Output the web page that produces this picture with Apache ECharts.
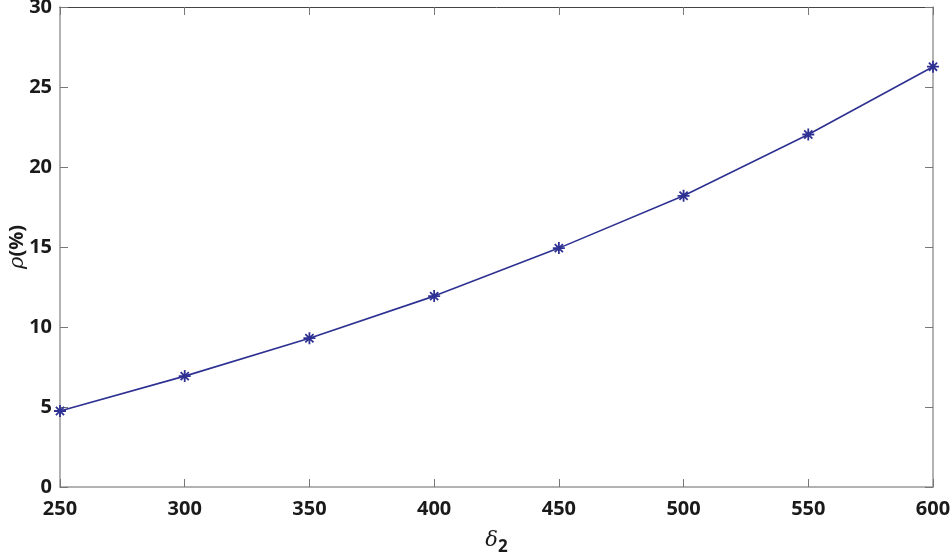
<!DOCTYPE html>
<html><head><meta charset="utf-8">
<script src="https://cdn.jsdelivr.net/npm/echarts@6/dist/echarts.min.js"></script>
<style>html,body{margin:0;padding:0;background:#fff}#c{width:950px;height:557px}</style>
</head><body><div id="c"></div>
<script>
const xValues = [250, 300, 350, 400, 450, 500, 550, 600];
const rhoValues = [4.75, 6.93, 9.3, 11.93, 14.93, 18.2, 22.03, 26.27];
const xTicks = [250, 300, 350, 400, 450, 500, 550, 600];
const yTicks = [0, 5, 10, 15, 20, 25, 30];

const chart = echarts.init(document.getElementById('c'));
const labelFont = {fontFamily: 'Open Sans', fontWeight: 'bold', fontSize: 20, color: '#1a1a1a'};
const asterisk = 'path://M0,5 L10,5 M5,0 L5,10 M1.6,1.6 L8.4,8.4 M8.4,1.6 L1.6,8.4';
chart.setOption({
  animation: false,
  grid: {left: 60, right: 17, top: 7, bottom: 70, containLabel: false, outerBoundsMode: 'none'},
  xAxis: [{
    type: 'value', min: 250, max: 600, interval: 50, position: 'bottom',
    axisLine: {lineStyle: {color: '#999', width: 1.5}},
    axisTick: {inside: true, length: 8, lineStyle: {color: '#777'}},
    axisLabel: Object.assign({margin: 12, formatter: v => xTicks.includes(v) ? String(v) : ''}, labelFont),
    splitLine: {show: false},
    name: '{d|δ}{s|2}', nameLocation: 'middle', nameGap: 38,
    nameTextStyle: {rich: {
      d: {fontFamily: 'DejaVu Serif', fontStyle: 'italic', fontSize: 21, color: '#1a1a1a'},
      s: {fontFamily: 'Open Sans', fontWeight: 'bold', fontSize: 17, color: '#1a1a1a', padding: [14, 0, 0, 0]}
    }}
  }, {
    type: 'value', min: 250, max: 600, interval: 50, position: 'top',
    axisLine: {onZero: false, lineStyle: {color: '#444', width: 1}},
    axisTick: {inside: true, length: 8, lineStyle: {color: '#777'}},
    axisLabel: {show: false}, splitLine: {show: false}
  }],
  yAxis: [{
    type: 'value', min: 0, max: 30, interval: 5, position: 'left',
    axisLine: {show: true, lineStyle: {color: '#999', width: 1.5}},
    axisTick: {show: true, inside: true, length: 8, lineStyle: {color: '#777'}},
    axisLabel: Object.assign({margin: 8, formatter: v => yTicks.includes(v) ? String(v) : ''}, labelFont),
    splitLine: {show: false},
    name: '{r|ρ}{p|(%)}', nameLocation: 'middle', nameGap: 32, nameRotate: 90, nameMoveOverlap: false,
    nameTextStyle: {rich: {
      r: {fontFamily: 'DejaVu Serif', fontStyle: 'italic', fontSize: 21, color: '#1a1a1a'},
      p: {fontFamily: 'Open Sans', fontWeight: 'bold', fontSize: 20, color: '#1a1a1a'}
    }}
  }, {
    type: 'value', min: 0, max: 30, interval: 5, position: 'right',
    axisLine: {show: true, onZero: false, lineStyle: {color: '#999', width: 1.5}},
    axisTick: {show: true, inside: true, length: 8, lineStyle: {color: '#777'}},
    axisLabel: {show: false}, splitLine: {show: false}
  }],
  series: [{
    type: 'line',
    data: xValues.map((x, i) => [x, rhoValues[i]]),
    lineStyle: {color: '#2e3192', width: 1.6},
    symbol: asterisk, symbolSize: 12, showAllSymbol: true,
    itemStyle: {color: 'rgba(0,0,0,0)', borderColor: '#2e3192', borderWidth: 1.8},
    z: 5
  }]
});
</script></body></html>
